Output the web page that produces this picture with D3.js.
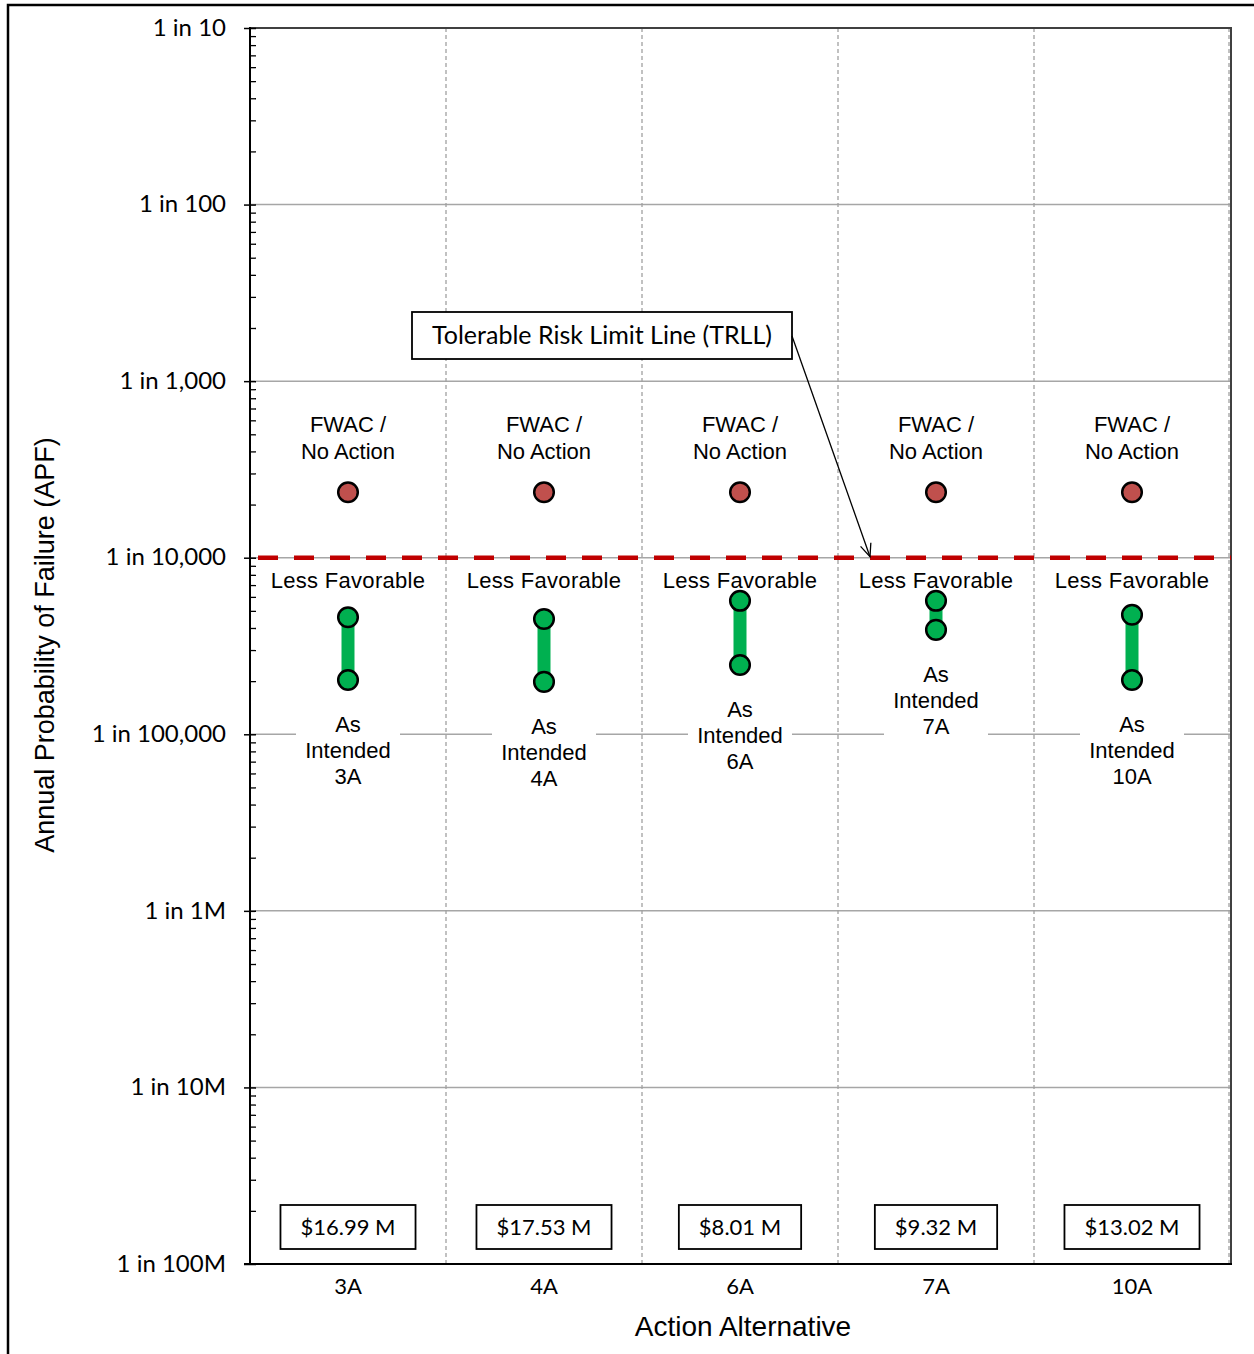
<!DOCTYPE html>
<html>
<head>
<meta charset="utf-8">
<script src="https://cdn.jsdelivr.net/npm/d3@7"></script>
<style>
  html, body { margin: 0; padding: 0; background: #fff; }
  svg { display: block; }
</style>
</head>
<body>
<svg id="chart" width="1254" height="1354"></svg>
<script>
// ---------------- data ----------------
const categories = ["3A", "4A", "6A", "7A", "10A"];
const noActionAPF = [2.35e-4, 2.35e-4, 2.35e-4, 2.35e-4, 2.35e-4];
const lessFavorableAPF = [4.6e-5, 4.5e-5, 5.7e-5, 5.7e-5, 4.75e-5];
const asIntendedAPF = [2.03e-5, 1.98e-5, 2.47e-5, 3.9e-5, 2.03e-5];
const costs = ["$16.99 M", "$17.53 M", "$8.01 M", "$9.32 M", "$13.02 M"];
const trll = 1e-4;
const yTickValues = [1e-1, 1e-2, 1e-3, 1e-4, 1e-5, 1e-6, 1e-7, 1e-8];
const yTickLabels = ["1 in 10", "1 in 100", "1 in 1,000", "1 in 10,000", "1 in 100,000", "1 in 1M", "1 in 10M", "1 in 100M"];
const yTitle = "Annual Probability of Failure (APF)";
const xTitle = "Action Alternative";
const trllLabel = "Tolerable Risk Limit Line (TRLL)";

// ---------------- layout ----------------
const L = 250, R = 1230, T = 28, B = 1264;
const svg = d3.select("#chart");
const calibri = "Lato, 'Open Sans', sans-serif";
const arial = "'Liberation Sans', Arial, sans-serif";

const x = d3.scaleBand().domain(categories).range([L, R]).padding(0);
const y = d3.scaleLog().domain([1e-8, 1e-1]).range([B, T]);
const cx = c => x(c) + x.bandwidth() / 2;

// outer frame
svg.append("path").attr("d", `M8,1354 L8,5 L1254,5`).attr("fill", "none")
  .attr("stroke", "#000").attr("stroke-width", 2.5);

// horizontal gridlines (major decades)
svg.append("g").selectAll("line").data(yTickValues.slice(1, -1)).join("line")
  .attr("x1", L).attr("x2", R).attr("y1", d => y(d)).attr("y2", d => y(d))
  .attr("stroke", "#a6a6a6").attr("stroke-width", 1.5);

// vertical category dividers (dashed)
svg.append("g").selectAll("line").data(categories.slice(1).concat(["end"])).join("line")
  .attr("x1", d => d === "end" ? R - 1 : x(d)).attr("x2", d => d === "end" ? R - 1 : x(d))
  .attr("y1", T).attr("y2", B)
  .attr("stroke", "#a0a0a0").attr("stroke-width", 1.3).attr("stroke-dasharray", "4,3");

// plot border top/right
svg.append("path").attr("d", `M${L},${T} L${R + 1},${T} L${R + 1},${B}`)
  .attr("fill", "none").attr("stroke", "#404040").attr("stroke-width", 2);

// TRLL red dashed line
svg.append("line").attr("x1", L + 8).attr("x2", R + 1).attr("y1", y(trll)).attr("y2", y(trll))
  .attr("stroke", "#c00000").attr("stroke-width", 4.5).attr("stroke-dasharray", "20,16");

// Y axis with major ticks and labels
const yAxis = d3.axisLeft(y).tickValues(yTickValues)
  .tickFormat((d, i) => yTickLabels[i]).tickSize(6).tickPadding(18);
const gy = svg.append("g").attr("transform", `translate(${L},0)`).call(yAxis);
gy.select(".domain").remove();
gy.selectAll(".tick line").attr("stroke", "#000").attr("stroke-width", 1.5).attr("x2", 6).attr("x1", -6);
gy.selectAll(".tick text").attr("font-family", calibri).attr("font-size", 24).attr("fill", "#000").attr("dy", "0.3em");

// minor ticks (2..9 in each decade), pointing right
const minorVals = [];
for (let e = -8; e < -1; e++) for (let m = 2; m <= 9; m++) minorVals.push(m * Math.pow(10, e));
const gyMinor = svg.append("g").attr("transform", `translate(${L},0)`)
  .call(d3.axisRight(y).tickValues(minorVals).tickFormat("").tickSize(6));
gyMinor.select(".domain").remove();
gyMinor.selectAll(".tick line").attr("stroke", "#000").attr("stroke-width", 1.3);

// axis lines
svg.append("line").attr("x1", L).attr("x2", L).attr("y1", T - 1).attr("y2", B + 1)
  .attr("stroke", "#000").attr("stroke-width", 2);
svg.append("line").attr("x1", L - 6).attr("x2", R + 2).attr("y1", B).attr("y2", B)
  .attr("stroke", "#000").attr("stroke-width", 2);

// X axis labels
const xAxis = d3.axisBottom(x).tickSize(0).tickPadding(14);
const gx = svg.append("g").attr("transform", `translate(0,${B})`).call(xAxis);
gx.select(".domain").remove();
gx.selectAll(".tick text").attr("font-family", calibri).attr("font-size", 22).attr("fill", "#000");

// axis titles
svg.append("text").attr("x", 743).attr("y", 1336).attr("text-anchor", "middle")
  .attr("font-family", arial).attr("font-size", 28).attr("fill", "#000").text(xTitle);
svg.append("text").attr("transform", "translate(54,645) rotate(-90)").attr("text-anchor", "middle")
  .attr("font-family", arial).attr("font-size", 27).attr("fill", "#000").text(yTitle);

// ---------- annotations per category ----------
const rows = categories.map((c, i) => ({
  c, na: noActionAPF[i], lf: lessFavorableAPF[i], ai: asIntendedAPF[i], cost: costs[i]
}));

// "As Intended" labels with white background (break gridline)
const ai = svg.append("g").selectAll("g").data(rows).join("g")
  .attr("transform", d => `translate(${cx(d.c)},${y(d.ai) + 44})`);
ai.append("rect").attr("x", -52).attr("y", -16).attr("width", 104).attr("height", 80).attr("fill", "#fff");
ai.each(function (d) {
  const g = d3.select(this);
  ["As", "Intended", d.c].forEach((t, k) => {
    g.append("text").attr("x", 0).attr("y", k * 26).attr("dy", "0.35em")
      .attr("text-anchor", "middle").attr("font-family", arial).attr("font-size", 22)
      .attr("fill", "#000").text(t);
  });
});

// FWAC / No Action labels
const na = svg.append("g").selectAll("g").data(rows).join("g")
  .attr("transform", d => `translate(${cx(d.c)},${y(d.na)})`);
na.append("text").attr("y", -68).attr("dy", "0.35em").attr("text-anchor", "middle")
  .attr("font-family", arial).attr("font-size", 22).attr("fill", "#000").text("FWAC /");
na.append("text").attr("y", -41).attr("dy", "0.35em").attr("text-anchor", "middle")
  .attr("font-family", arial).attr("font-size", 22).attr("fill", "#000").text("No Action");

// Less Favorable labels
svg.append("g").selectAll("text").data(rows).join("text")
  .attr("x", d => cx(d.c)).attr("y", y(trll) + 23).attr("dy", "0.35em")
  .attr("text-anchor", "middle").attr("font-family", arial).attr("font-size", 22)
  .attr("letter-spacing", 0.3).attr("fill", "#000").text("Less Favorable");

// green range bars
svg.append("g").selectAll("line").data(rows).join("line")
  .attr("x1", d => cx(d.c)).attr("x2", d => cx(d.c))
  .attr("y1", d => y(d.lf)).attr("y2", d => y(d.ai))
  .attr("stroke", "#00b050").attr("stroke-width", 13);

// green points
const greenPts = rows.flatMap(d => [{ c: d.c, v: d.lf }, { c: d.c, v: d.ai }]);
svg.append("g").selectAll("circle").data(greenPts).join("circle")
  .attr("cx", d => cx(d.c)).attr("cy", d => y(d.v)).attr("r", 9.8)
  .attr("fill", "#00b050").attr("stroke", "#000").attr("stroke-width", 2.5);

// red points
svg.append("g").selectAll("circle").data(rows).join("circle")
  .attr("cx", d => cx(d.c)).attr("cy", d => y(d.na)).attr("r", 9.8)
  .attr("fill", "#c0504d").attr("stroke", "#000").attr("stroke-width", 2.5);

// cost boxes
const cb = svg.append("g").selectAll("g").data(rows).join("g")
  .attr("transform", d => `translate(${cx(d.c)},${1227})`);
cb.append("text").attr("text-anchor", "middle").attr("dy", "0.35em")
  .attr("font-family", calibri).attr("font-size", 22).attr("fill", "#000").text(d => d.cost);
cb.each(function () {
  const g = d3.select(this);
  const w = g.select("text").node().getComputedTextLength() + 40;
  g.insert("rect", "text").attr("x", -w / 2).attr("y", -22).attr("width", w).attr("height", 44)
    .attr("fill", "#fff").attr("stroke", "#000").attr("stroke-width", 1.8);
});

// TRLL callout
const bx0 = 412, by0 = 312, bx1 = 792, by1 = 359;
svg.append("rect").attr("x", bx0).attr("y", by0).attr("width", bx1 - bx0).attr("height", by1 - by0)
  .attr("fill", "#fff").attr("stroke", "#000").attr("stroke-width", 1.8);
svg.append("text").attr("x", (bx0 + bx1) / 2).attr("y", (by0 + by1) / 2).attr("dy", "0.35em")
  .attr("text-anchor", "middle").attr("font-family", calibri).attr("font-size", 25)
  .attr("fill", "#000").text(trllLabel);
const ax0 = bx1, ay0 = 336, ax1 = 870, ay1 = y(trll) - 1;
svg.append("line").attr("x1", ax0).attr("y1", ay0).attr("x2", ax1).attr("y2", ay1)
  .attr("stroke", "#000").attr("stroke-width", 1.3);
const ang = Math.atan2(ay1 - ay0, ax1 - ax0);
const hl = 14, ha = 0.4;
svg.append("path")
  .attr("d", `M${ax1 - hl * Math.cos(ang - ha)},${ay1 - hl * Math.sin(ang - ha)} L${ax1},${ay1} L${ax1 - hl * Math.cos(ang + ha)},${ay1 - hl * Math.sin(ang + ha)}`)
  .attr("fill", "none").attr("stroke", "#000").attr("stroke-width", 1.3);
</script>
</body>
</html>
